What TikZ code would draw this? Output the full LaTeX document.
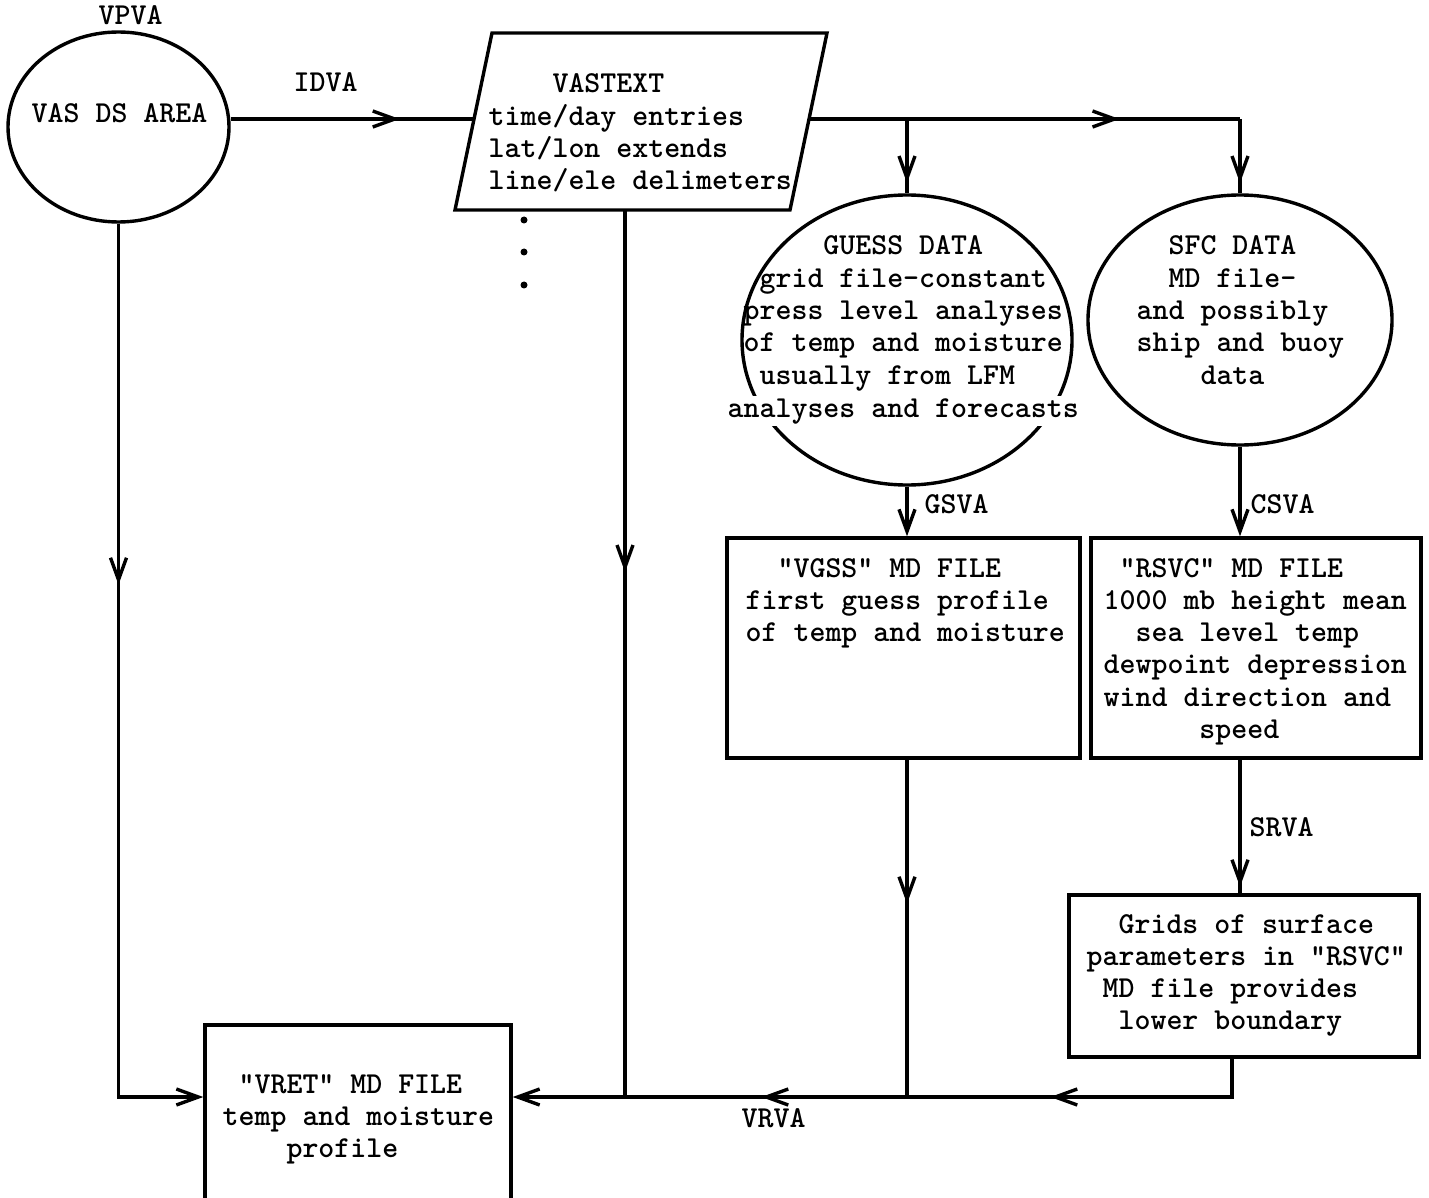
\documentclass[tikz,border=0pt]{standalone}
\usetikzlibrary{arrows.meta,decorations.markings,shapes.geometric}
\begin{document}
\begin{tikzpicture}[x=1pt,y=-1pt, line width=3.4pt,
  >={Straight Barb[length=22pt,width=16pt]},
  font=\ttfamily\bfseries\fontsize{30.4}{32.3}\selectfont,
  txt/.style={anchor=base west, inner sep=0pt},
  box/.style={draw, rectangle, inner sep=0pt},
  oval/.style={draw, ellipse, inner sep=0pt},
  midarr/.style={postaction={decorate,decoration={markings,mark=at position #1 with {\arrow{>}}}}}]
\useasboundingbox (0,0) rectangle (1429,1198);
\fill[white] (0,0) rectangle (1429,1198);
\clip (0,0) rectangle (1429,1198);

% VAS DS AREA
\node[oval, minimum width=221pt, minimum height=190pt] (vas) at (118.5,127) {};
\node[txt] (vasT) at (30,123) {VAS DS AREA};
\node[txt] (vpva) at (97,25) {VPVA};
\node[txt] (idva) at (292,92) {IDVA};

% VASTEXT parallelogram
\coordinate (p1) at (492,33);
\coordinate (p2) at (827,33);
\coordinate (p3) at (790,210);
\coordinate (p4) at (455,210);
\draw (p1) -- (p2) -- (p3) -- (p4) -- cycle;
\coordinate (pl) at (473.5,119);
\coordinate (pr) at (808.5,119);
\coordinate (pb) at (625,210);
\node[txt] (vastext) at (487,93) {\vtop{\hbox{\phantom{xxxx}VASTEXT}\hbox{time/day entries}\hbox{lat/lon extends}\hbox{line/ele delimeters}}};
\fill (524,220) circle[radius=3.5pt];
\fill (524,252) circle[radius=3.5pt];
\fill (524,285) circle[radius=3.5pt];

% GUESS DATA
\node[oval, minimum width=330pt, minimum height=290pt] (guess) at (907,340) {};
\node[txt] (guessT) at (726,255) {\vtop{\hbox{\phantom{xxxxxx}GUESS DATA}\hbox{\phantom{xx}grid file-constant}\hbox{\phantom{x}press level analyses}\hbox{\phantom{x}of temp and moisture}\hbox{\phantom{xx}usually from LFM}}};
\node[txt, fill=white, inner xsep=3pt, inner ysep=2pt] (guessL) at (723,417) {analyses and forecasts};

% SFC DATA
\node[oval, minimum width=304pt, minimum height=250pt] (sfc) at (1240,320) {};
\node[txt] (sfcT) at (1135,255) {\vtop{\hbox{\phantom{xx}SFC DATA}\hbox{\phantom{xx}MD file-}\hbox{and possibly}\hbox{ship and buoy}\hbox{\phantom{xxxx}data}}};

% boxes
\node[box, minimum width=353pt, minimum height=220pt] (vgss) at (903.5,648) {};
\node[txt] (vgssT) at (744,577) {\vtop{\hbox{\phantom{xx}"VGSS" MD FILE}\hbox{first guess profile}\hbox{of temp and moisture}}};

\node[box, minimum width=330pt, minimum height=220pt] (rsvc) at (1256,648) {};
\node[txt] (rsvcT) at (1102,577) {\vtop{\hbox{\phantom{x}"RSVC" MD FILE}\hbox{1000 mb height mean}\hbox{\phantom{xx}sea level temp}\hbox{dewpoint depression}\hbox{wind direction and}\hbox{\phantom{xxxxxx}speed}}};

\node[box, minimum width=350pt, minimum height=162pt] (grids) at (1244,976) {};
\node[txt] (gridsT) at (1085,933) {\vtop{\hbox{\phantom{xx}Grids of surface}\hbox{parameters in "RSVC"}\hbox{\phantom{x}MD file provides}\hbox{\phantom{xx}lower boundary}}};

\node[box, minimum width=306pt, minimum height=190pt] (vret) at (358,1120) {};
\node[txt] (vretT) at (221,1093) {\vtop{\hbox{\phantom{x}"VRET" MD FILE}\hbox{temp and moisture}\hbox{\phantom{xxxx}profile}}};

% labels
\node[txt] (gsva) at (923,513) {GSVA};
\node[txt] (csva) at (1249,513) {CSVA};
\node[txt] (srva) at (1248,836) {SRVA};
\node[txt] (vrva) at (740,1127) {VRVA};

% connectors
\coordinate (j1) at (907,119);
\coordinate (j2) at (1240,119);
\coordinate (bl) at (0,1097);
\draw[midarr=169pt] (vas.east |- pl) -- (pl);
\draw[midarr=311pt] (pr) -- (j2);
\draw[midarr=64pt] (j2) -- (sfc.north);
\draw[midarr=64pt] (j1) -- (guess.north);
\draw[->] (guess.south) -- (vgss.north -| guess.south);
\draw[->] (sfc.south) -- (sfc.south |- rsvc.north);
\draw[midarr=127pt] (sfc.south |- rsvc.south) -- (sfc.south |- grids.north);
\draw[->, midarr=220pt, midarr=509pt] ([xshift=-12pt]grids.south) -- ([xshift=-12pt]grids.south |- bl) -- (vret.east |- bl);
\draw[->, midarr=361pt] (vas.south) -- (vas.south |- bl) -- (vret.west |- bl);
\draw[midarr=362pt] (pb) -- (pb |- bl);
\draw[midarr=144pt] (guess.south |- vgss.south) -- (guess.south |- bl);
\end{tikzpicture}
\end{document}
